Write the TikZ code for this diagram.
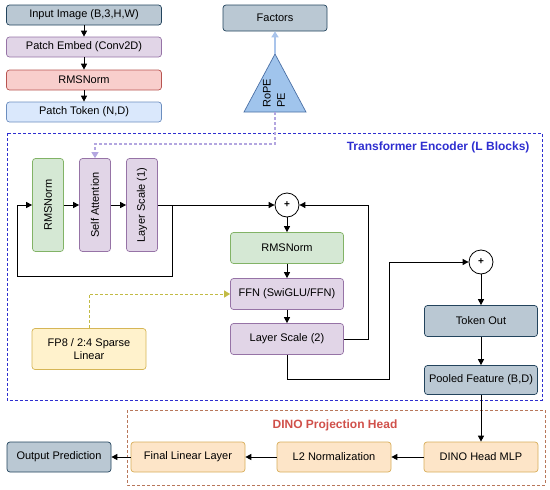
\documentclass[tikz,border=0pt]{standalone}
\usepackage{fontspec}
\setmainfont{Liberation Sans}
\usetikzlibrary{arrows.meta}

\definecolor{grayF}{HTML}{BAC8D3}
\definecolor{grayD}{HTML}{23445D}
\definecolor{purpF}{HTML}{E1D5E7}
\definecolor{purpD}{HTML}{9673A6}
\definecolor{redF}{HTML}{F8CECC}
\definecolor{redD}{HTML}{B85450}
\definecolor{blueF}{HTML}{DAE8FC}
\definecolor{blueD}{HTML}{6C8EBF}
\definecolor{greenF}{HTML}{D5E8D4}
\definecolor{greenD}{HTML}{82B366}
\definecolor{yelF}{HTML}{FFF2CC}
\definecolor{yelD}{HTML}{D6B656}
\definecolor{orgF}{HTML}{FDE5C8}
\definecolor{orgD}{HTML}{D8AE5A}
\definecolor{ropeF}{HTML}{A0C4EC}
\definecolor{ropeD}{HTML}{4A6FA5}
\definecolor{encC}{HTML}{2E2ED0}
\definecolor{dinoC}{HTML}{B8775A}
\definecolor{dinoT}{HTML}{D0504A}
\definecolor{lineP}{HTML}{B3A6E0}
\definecolor{lineY}{HTML}{C2BB45}
\definecolor{lineB}{HTML}{A9C4EB}

\tikzset{
  blk/.style={draw, rounded corners=3pt, line width=0.7pt, inner sep=1pt,
    minimum width=113pt, minimum height=31pt, align=center,
    font=\fontsize{11}{13}\selectfont},
  vblk/.style={blk, rotate=90, minimum width=93pt, minimum height=31pt},
  plusnode/.style={circle, draw, fill=white, line width=0.8pt, minimum size=24pt,
    inner sep=0pt, font=\bfseries\fontsize{10}{10}\selectfont},
  arr/.style={-{Triangle[length=6pt,width=6pt]}, line width=0.9pt},
}

\begin{document}
\begin{tikzpicture}[x=1pt,y=-1pt]
    \useasboundingbox (0,0) rectangle (550,490);

    % Rahmen
    \draw[encC, line width=1pt, dash pattern=on 3pt off 2pt] (7,133) rectangle (542,400);
    \draw[dinoC, line width=0.8pt, dash pattern=on 3pt off 2pt] (127,410) rectangle (545,485);
    \node[anchor=east, text=encC, font=\bfseries\fontsize{12}{14}\selectfont] (encT) at (533,147) {Transformer Encoder (L Blocks)};
    \node[text=dinoT, font=\bfseries\fontsize{12}{14}\selectfont] (dinoT) at (335,425) {DINO Projection Head};

    % Eingang
    \node[blk, fill=grayF, draw=grayD, minimum width=155pt, minimum height=20pt] (img) at (84,15) {Input Image (B,3,H,W)};
    \node[blk, fill=purpF, draw=purpD, minimum width=155pt, minimum height=20pt] (emb) at (84,47) {Patch Embed (Conv2D)};
    \node[blk, fill=redF, draw=redD, minimum width=155pt, minimum height=20pt] (rms0) at (84,80) {RMSNorm};
    \node[blk, fill=blueF, draw=blueD, minimum width=155pt, minimum height=20pt] (tok) at (84,112) {Patch Token (N,D)};
    \draw[arr] (img) -- (emb);
    \draw[arr] (emb) -- (rms0);
    \draw[arr] (rms0) -- (tok);

    % RoPE
    \node[blk, fill=grayF, draw=grayD, minimum width=104pt, minimum height=26pt] (fac) at (275,18) {Factors};
    \coordinate (ropeTop) at (275,54);
    \coordinate (ropeBot) at (275,112);
    \draw[fill=ropeF, draw=ropeD, line width=0.7pt] (ropeTop) -- (306,112) -- (244,112) -- cycle;
    \node[rotate=90, anchor=west, inner sep=0pt, font=\fontsize{11}{13}\selectfont] (rope) at (267,108) {RoPE};
    \node[rotate=90, anchor=west, inner sep=0pt, font=\fontsize{11}{13}\selectfont] (pe) at (281,108) {PE};
    \draw[-{Triangle[length=6pt,width=7pt]}, lineB, line width=1.5pt] (ropeTop) -- (fac);

    % Block 1
    \node[vblk, fill=greenF, draw=greenD] (rms1) at (48,205) {RMSNorm};
    \node[vblk, fill=purpF, draw=purpD] (sa) at (95,205) {Self Attention};
    \node[vblk, fill=purpF, draw=purpD] (ls1) at (142,205) {Layer Scale (1)};
    \draw[-{Triangle[length=6pt,width=7pt]}, lineP, line width=1.2pt, densely dashed] (ropeBot) -- ++(0,32) -| (sa.east);
    \draw[arr] (rms1) -- (sa);
    \draw[arr] (sa) -- (ls1);
    \coordinate (lsOut) at (172,205);
    \coordinate (loopL) at (17,276);
    \draw[arr] (lsOut) |- (loopL) |- (rms1.north);

    % Block 2
    \node[plusnode] (plus1) at (287,205) {+};
    \node[blk, fill=greenF, draw=greenD] (rms2) at (287,248) {RMSNorm};
    \node[blk, fill=purpF, draw=purpD] (ffn) at (287,294) {FFN (SwiGLU/FFN)};
    \node[blk, fill=purpF, draw=purpD] (ls2) at (287,339) {Layer Scale (2)};
    \draw[arr] (ls1) -- (plus1);
    \draw[arr] (plus1) -- (rms2);
    \draw[arr] (rms2) -- (ffn);
    \draw[arr] (ffn) -- (ls2);
    \coordinate (res1) at (368,205);
    \draw[arr] (ls2.east) -| (res1) -- (plus1.east);

    % FP8
    \node[blk, fill=yelF, draw=yelD, minimum width=114pt, minimum height=41pt] (fp8) at (89,349) {FP8 / 2:4 Sparse\\Linear};
    \draw[-{Triangle[length=6pt,width=7pt]}, lineY, line width=0.9pt, dash pattern=on 3pt off 2pt] (fp8.north) |- (ffn.west);

    % Ausgang
    \node[plusnode] (plus2) at (481,262) {+};
    \node[blk, fill=grayF, draw=grayD] (tout) at (481,321) {Token Out};
    \node[blk, fill=grayF, draw=grayD, minimum height=29pt] (pool) at (481,380) {Pooled Feature (B,D)};
    \coordinate (bend2) at (389,379);
    \draw[arr] (ls2.south) |- (bend2) |- (plus2.west);
    \draw[arr] (plus2) -- (tout);
    \draw[arr] (tout) -- (pool);

    % DINO
    \node[blk, fill=orgF, draw=orgD, minimum width=114pt, minimum height=30pt] (mlp) at (481,457) {DINO Head MLP};
    \node[blk, fill=orgF, draw=orgD, minimum width=114pt, minimum height=30pt] (l2) at (334,457) {L2 Normalization};
    \node[blk, fill=orgF, draw=orgD, minimum width=114pt, minimum height=30pt] (fin) at (188,457) {Final Linear Layer};
    \node[blk, fill=grayF, draw=grayD, minimum width=104pt, minimum height=30pt] (out) at (59,457) {Output Prediction};
    \draw[arr] (pool) -- (mlp);
    \draw[arr] (mlp) -- (l2);
    \draw[arr] (l2) -- (fin);
    \draw[arr] (fin) -- (out);
\end{tikzpicture}
\end{document}
